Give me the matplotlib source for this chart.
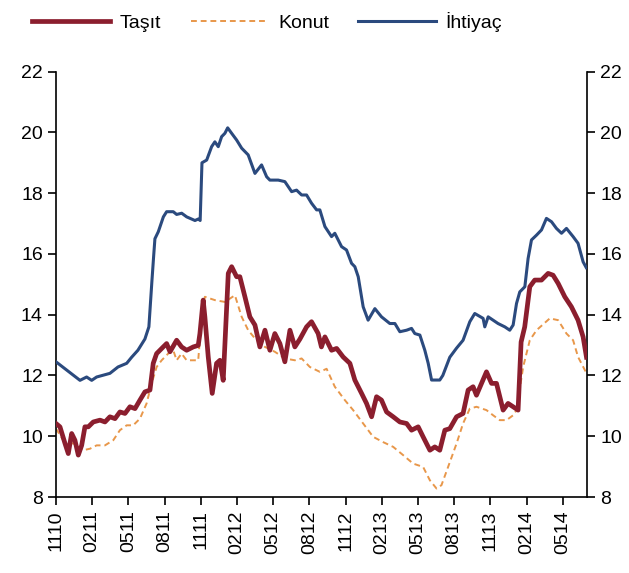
#!/usr/bin/env python3

import matplotlib
matplotlib.use("Agg")
import matplotlib.pyplot as plt

# months since Nov 2010
tick_labels = ["1110", "0211", "0511", "0811", "1111", "0212", "0512", "0812",
               "1112", "0213", "0513", "0813", "1113", "0214", "0514"]

ihtiyac_x = [0, 1.99, 2.54, 2.96, 3.37, 4.47, 5.14, 5.86, 6.27, 6.79, 7.37, 7.7,
             7.95, 8.09, 8.2, 8.48, 8.9, 9.17, 9.72, 10.0, 10.42, 10.83, 11.52,
             11.8, 11.95, 12.1, 12.49, 12.9, 13.17, 13.45, 13.73, 14.0, 14.23,
             14.56, 14.97, 15.39, 15.93, 16.49, 17.04, 17.46, 17.73, 18.42, 18.97,
             19.53, 19.94, 20.36, 20.77, 21.18, 21.6, 21.87, 22.29, 22.84, 23.11,
             23.67, 24.08, 24.5, 24.77, 25.05, 25.46, 25.87, 26.43, 26.98, 27.67,
             28.09, 28.5, 29.06, 29.47, 29.74, 30.16, 30.57, 30.85, 31.13, 31.81,
             32.06, 32.64, 33.2, 33.74, 34.3, 34.71, 35.4, 35.54, 35.82, 36.64,
             37.2, 37.61, 37.89, 38.17, 38.44, 38.86, 39.13, 39.41, 39.83, 40.24,
             40.65, 41.07, 41.48, 41.9, 42.31, 42.86, 43.27, 43.69, 43.95]
ihtiyac = [12.45, 11.84, 11.95, 11.84, 11.95, 12.07, 12.28, 12.4, 12.6, 12.83, 13.2, 13.6,
           15.1, 15.9, 16.5, 16.73, 17.22, 17.39, 17.39, 17.3, 17.34, 17.22, 17.1,
           17.15, 17.1, 19.0, 19.09, 19.53, 19.69, 19.53, 19.86, 19.97, 20.15,
           19.97, 19.75, 19.48, 19.26, 18.65, 18.93, 18.54, 18.43, 18.43, 18.38,
           18.05, 18.1, 17.94, 17.94, 17.67, 17.45, 17.45, 16.9, 16.57, 16.68,
           16.24, 16.13, 15.69, 15.58, 15.25, 14.26, 13.82, 14.2, 13.93, 13.71,
           13.71, 13.44, 13.49, 13.55, 13.38, 13.33, 12.83, 12.4, 11.85, 11.85,
           12.0, 12.6, 12.9, 13.16, 13.77, 14.04, 13.88, 13.6, 13.93, 13.71,
           13.6, 13.49, 13.66, 14.37, 14.75, 14.92, 15.85, 16.46, 16.62, 16.79,
           17.17, 17.06, 16.84, 16.68, 16.84, 16.57, 16.35, 15.74, 15.55]

tasit_x = [0, 0.33, 0.75, 1.02, 1.3, 1.57, 1.85, 2.13, 2.4, 2.68, 3.09, 3.65, 4.06,
           4.47, 4.89, 5.3, 5.72, 6.13, 6.55, 6.96, 7.37, 7.79, 8.06, 8.34, 8.89,
           9.17, 9.45, 10.0, 10.41, 10.83, 11.38, 11.79, 11.93, 12.2, 12.34, 12.62,
           12.95, 13.31, 13.59, 13.86, 14.28, 14.56, 14.97, 15.24, 15.66, 16.07,
           16.49, 16.9, 17.32, 17.73, 18.14, 18.56, 18.97, 19.39, 19.8, 20.22,
           20.77, 21.18, 21.73, 22.0, 22.29, 22.84, 23.26, 23.8, 24.36, 24.77,
           25.33, 25.74, 26.16, 26.57, 26.98, 27.4, 27.95, 28.5, 29.06, 29.47,
           30.02, 30.43, 30.99, 31.4, 31.81, 32.23, 32.64, 33.2, 33.74, 34.16,
           34.57, 34.85, 35.27, 35.68, 36.1, 36.51, 37.06, 37.47, 37.89, 38.3,
           38.55, 38.85, 39.27, 39.68, 40.24, 40.79, 41.2, 41.62, 42.17, 42.72,
           43.27, 43.69, 43.97]
tasit = [10.42, 10.31, 9.76, 9.43, 10.09, 9.87, 9.38, 9.7, 10.31, 10.31, 10.47, 10.53, 10.47,
         10.64, 10.58, 10.8, 10.75, 10.97, 10.91, 11.19, 11.46, 11.52, 12.4, 12.72, 12.94,
         13.05, 12.78, 13.16, 12.94, 12.83, 12.94, 12.99, 13.38, 14.48, 13.93, 12.61,
         11.41, 12.4, 12.5, 11.84, 15.36, 15.58, 15.25, 15.25, 14.59, 13.93,
         13.66, 12.94, 13.49, 12.83, 13.38, 13.05, 12.45, 13.49, 12.94, 13.2,
         13.6, 13.77, 13.38, 12.94, 13.27, 12.83, 12.89, 12.61, 12.4, 11.85,
         11.41, 11.08, 10.64, 11.3, 11.19, 10.8, 10.64, 10.47, 10.42, 10.2,
         10.31, 9.98, 9.54, 9.65, 9.54, 10.2, 10.25, 10.64, 10.75, 11.52,
         11.63, 11.35, 11.74, 12.12, 11.74, 11.74, 10.86, 11.08, 10.97, 10.86,
         13.1, 13.6, 14.92, 15.14, 15.14, 15.36, 15.3, 15.03, 14.59, 14.26,
         13.82, 13.27, 12.6]

konut_x = [0, 0.6, 1.43, 2.26, 2.82, 3.37, 4.06, 4.75, 5.3, 5.86, 6.4, 6.96, 7.51,
           7.93, 8.34, 8.76, 9.3, 9.72, 10.0, 10.41, 10.83, 11.38, 11.79, 12.07,
           12.34, 13.17, 14.0, 14.83, 15.39, 15.93, 16.49, 17.32, 18.14, 18.97,
           19.8, 20.36, 21.04, 21.87, 22.43, 23.11, 23.94, 24.63, 25.46, 26.29,
           27.1, 27.95, 28.77, 29.6, 30.43, 30.99, 31.54, 31.95, 32.5, 33.2,
           33.74, 34.3, 34.85, 35.68, 36.23, 36.78, 37.34, 37.89, 38.17, 38.72,
           39.27, 39.83, 40.93, 41.62, 42.31, 42.86, 43.27, 43.91]
konut = [10.25, 9.87, 9.76, 9.54, 9.59, 9.7, 9.7, 9.87, 10.2, 10.36, 10.36, 10.58, 11.08,
         11.74, 12.28, 12.5, 12.72, 12.83, 12.5, 12.72, 12.5, 12.5, 12.5, 13.93,
         14.59, 14.48, 14.42, 14.64, 13.93, 13.49, 13.22, 12.94, 12.78, 12.56,
         12.5, 12.56, 12.28, 12.12, 12.22, 11.63, 11.19, 10.86, 10.42, 9.98,
         9.81, 9.65, 9.38, 9.1, 8.99, 8.55, 8.28, 8.39, 8.99, 9.76,
         10.42, 10.91, 10.97, 10.86, 10.69, 10.53, 10.53, 10.69, 10.86, 12.28,
         13.16, 13.49, 13.88, 13.82, 13.38, 13.16, 12.61, 12.12]

plt.rcParams["font.family"] = ["Liberation Sans Narrow", "Liberation Sans", "DejaVu Sans"]

fig = plt.figure(figsize=(6.29, 5.73), dpi=100)
ax = fig.add_axes([0.089, 0.1326, 0.844, 0.7424])

ax.plot(tasit_x, tasit, color="#8B1E2E", linewidth=3.4, label="Taşıt", zorder=3)
ax.plot(konut_x, konut, color="#E8974A", linewidth=1.4, linestyle=(0, (3, 2)),
        label="Konut", zorder=2)
ax.plot(ihtiyac_x, ihtiyac, color="#2B4A7E", linewidth=2.2, label="İhtiyaç", zorder=4)

ax.set_xlim(0, 44)
ax.set_ylim(8, 22)
ax.set_yticks(range(8, 23, 2))
ax.set_xticks(range(0, 43, 3))
ax.set_xticklabels(tick_labels, rotation=90)

ax.spines["top"].set_visible(False)
for s in ["left", "right", "bottom"]:
    ax.spines[s].set_linewidth(1.2)
ax.tick_params(axis="both", direction="out", length=6, width=1.2, labelsize=14)
ax.tick_params(axis="y", right=True, labelright=True)

handles, labels = ax.get_legend_handles_labels()
fig.legend(handles, labels, loc="upper center", bbox_to_anchor=(0.425, 1.01), ncol=3,
           frameon=False, fontsize=14, handlelength=4.0, columnspacing=1.5,
           handletextpad=0.5)

fig.savefig("out.png", dpi=100)
